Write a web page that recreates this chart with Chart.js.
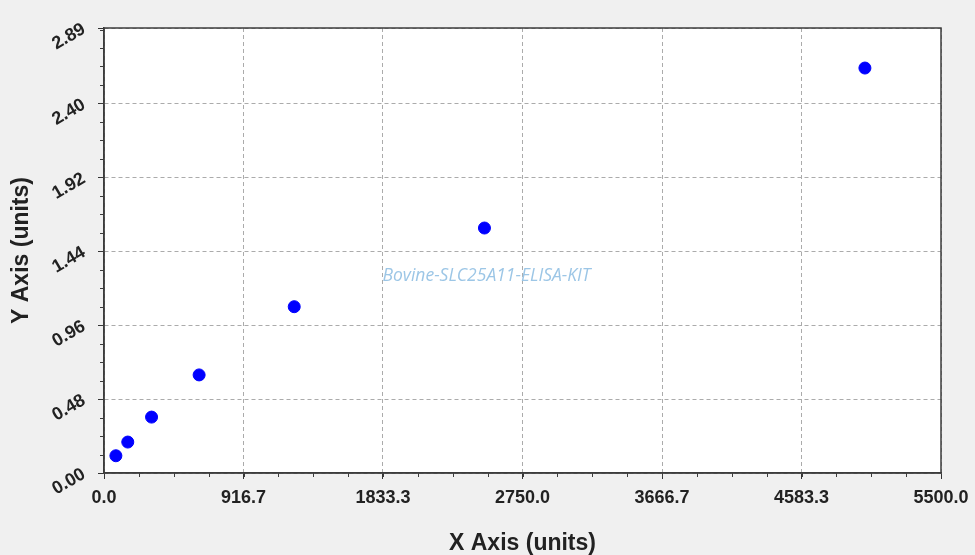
<!DOCTYPE html>
<html>
<head>
  <meta charset="UTF-8">
  <title>Bovine-SLC25A11 ELISA KIT</title>
  <script src="https://cdn.jsdelivr.net/npm/chart.js"></script>
  <style>
    html, body { margin: 0; padding: 0; background: #f0f0f0; }
    #wrap { width: 975px; height: 555px; position: relative; }
  </style>
</head>
<body>
<div id="wrap"><canvas id="curve"></canvas></div>

<script>
  // standard curve points
  const concentrations = [78.125, 156.25, 312.5, 625, 1250, 2500, 5000];
  const odValues = [0.112, 0.201, 0.363, 0.637, 1.080, 1.591, 2.630];

  // axis ticks
  const xTicks = [0, 916.7, 1833.3, 2750.0, 3666.7, 4583.3, 5500.0];
  const yTicks = [0, 0.48, 0.96, 1.44, 1.92, 2.40, 2.89];
  const xMinorStep = 916.7 / 4;
  const yMinorStep = 0.12;

  const watermarkText = 'Bovine-SLC25A11-ELISA-KIT';

  // white plot area + watermark
  const plotBackground = {
    id: 'plotBackground',
    beforeDraw(chart) {
      const { ctx, chartArea: a } = chart;
      ctx.save();
      ctx.fillStyle = '#ffffff';
      ctx.fillRect(a.left, a.top, a.right - a.left, a.bottom - a.top);
      ctx.restore();
    },
    beforeDatasetsDraw(chart) {
      const { ctx, chartArea: a } = chart;
      ctx.save();
      ctx.font = 'italic 17.5px "Open Sans", "DejaVu Sans", sans-serif';
      ctx.fillStyle = '#9cc6e6';
      ctx.textAlign = 'center';
      ctx.textBaseline = 'middle';
      ctx.fillText(watermarkText, a.left + (a.right - a.left) * 0.457, a.top + (a.bottom - a.top) * 0.558);
      ctx.restore();
    }
  };

  // frame around the plot and the short minor ticks
  const frameAndMinor = {
    id: 'frameAndMinor',
    afterDraw(chart) {
      const { ctx, chartArea: a, scales } = chart;
      ctx.save();
      ctx.strokeStyle = '#3c3c3c';
      ctx.lineWidth = 1.5;
      ctx.strokeRect(a.left, a.top, a.right - a.left, a.bottom - a.top);

      ctx.lineWidth = 1;
      ctx.beginPath();
      for (let v = xMinorStep; v < 5500; v += xMinorStep) {
        const px = Math.round(scales.x.getPixelForValue(v)) + 0.5;
        ctx.moveTo(px, a.bottom);
        ctx.lineTo(px, a.bottom + 4);
      }
      for (let v = yMinorStep; v < 2.89; v += yMinorStep) {
        const py = Math.round(scales.y.getPixelForValue(v)) + 0.5;
        ctx.moveTo(a.left - 4, py);
        ctx.lineTo(a.left, py);
      }
      ctx.stroke();
      ctx.restore();
    }
  };

  const tickFont = { family: '"Liberation Sans", Arial, sans-serif', size: 18, weight: 'bold' };
  const titleFont = { family: '"Liberation Sans", Arial, sans-serif', size: 23, weight: 'bold', lineHeight: 1 };

  new Chart(document.getElementById('curve'), {
    type: 'scatter',
    data: {
      datasets: [{
        label: 'OD',
        data: concentrations.map((c, i) => ({ x: c, y: odValues[i] })),
        backgroundColor: '#0000ff',
        borderColor: '#0000ff',
        pointRadius: 6,
        pointHoverRadius: 6
      }]
    },
    options: {
      responsive: true,
      maintainAspectRatio: false,
      animation: false,
      layout: { padding: { left: 0, top: 28, right: 34, bottom: 0 } },
      plugins: {
        legend: { display: false },
        tooltip: { enabled: false }
      },
      scales: {
        x: {
          type: 'linear',
          min: 0,
          max: 5500,
          afterBuildTicks: (scale) => { scale.ticks = xTicks.map(v => ({ value: v })); },
          afterFit: (scale) => { scale.height = 82; scale.paddingRight = 0; scale.paddingLeft = 0; },
          ticks: {
            font: tickFont,
            color: '#222222',
            padding: 8,
            maxRotation: 0,
            autoSkip: false,
            callback: (v) => Number(v).toFixed(1)
          },
          grid: { color: '#ababab', lineWidth: 1, tickColor: '#333333', tickLength: 6 },
          border: { display: true, color: '#3c3c3c', width: 1.5, dash: [4, 3] },
          title: { display: true, text: 'X Axis (units)', font: titleFont, color: '#222222', padding: { top: 0, bottom: 0 } }
        },
        y: {
          min: 0,
          max: 2.89,
          afterBuildTicks: (scale) => { scale.ticks = yTicks.map(v => ({ value: v })); },
          afterFit: (scale) => { scale.width = 104; },
          ticks: {
            font: tickFont,
            color: '#222222',
            padding: 14,
            minRotation: 30,
            maxRotation: 30,
            autoSkip: false,
            callback: (v) => Number(v).toFixed(2)
          },
          grid: { color: '#ababab', lineWidth: 1, tickColor: '#333333', tickLength: 6 },
          border: { display: true, color: '#3c3c3c', width: 1.5, dash: [4, 3] },
          title: { display: true, text: 'Y Axis (units)', font: titleFont, color: '#222222', padding: { top: 10, bottom: 0 } }
        }
      }
    },
    plugins: [plotBackground, frameAndMinor]
  });
</script>
</body>
</html>
